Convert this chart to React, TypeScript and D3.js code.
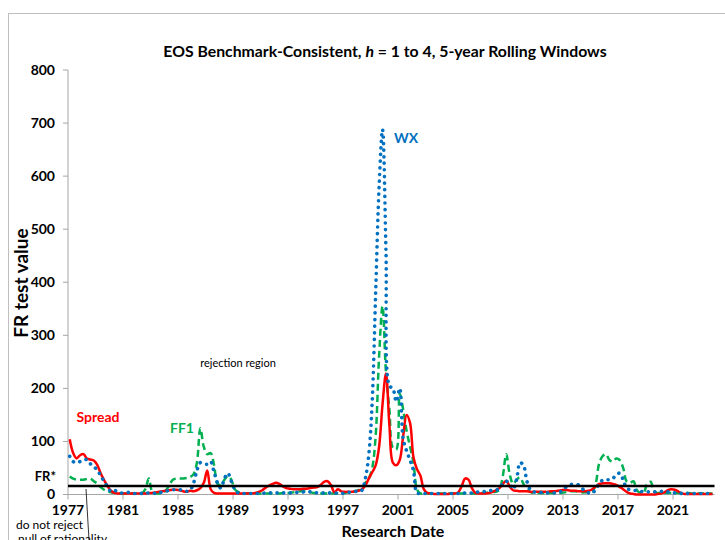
import React from 'react';
import * as d3 from 'd3';

// quarterly FR statistics, one row per year (1977 .. 2023)
const spread = [
  104, 78, 68, 74,  76, 68, 66, 64,  56, 40, 27, 16,  7, 3, 2, 2,
  2, 2, 2, 2,  2, 2, 2, 3,  3, 4, 5, 6,  7, 8, 9, 9,
  8, 6, 5, 7,  6, 8, 12, 22,  45, 10, 3, 2,  2, 2, 2, 2,
  2, 2, 2, 2,  2, 2, 3, 5,  8, 13, 17, 20,  22, 20, 15, 12,
  11, 10, 10, 10,  11, 11, 12, 13,  14, 18, 24, 25,  18, 4, 10, 6,
  5, 5, 5, 6,  7, 10, 17, 30,  42, 55, 90, 170,  228, 130, 60, 55,
  65, 110, 150, 135,  70, 48, 36, 10,  3, 2, 1, 1,  1, 1, 1, 2,
  2, 4, 15, 30,  28, 12, 3, 2,  2, 2, 3, 5,  8, 12, 20, 26,
  15, 8, 7, 6,  6, 6, 5, 5,  5, 5, 5, 5,  6, 6, 7, 8,
  9, 8, 7, 7,  6, 6, 6, 7,  10, 15, 20, 21,  21, 21, 20, 18,
  14, 10, 5, 2,  1, 0, 0, 0,  0, 0, 0, 1,  2, 4, 8, 10,
  9, 6, 2, 1,  1, 1, 1, 1,  1, 1, 1, 1,
];
const wx = [
  72, 62, 60, 62,  64, 66, 58, 52,  47, 35, 25, 14,  6, 8, 4, 3,
  3, 4, 3, 2,  3, 2, 2, 3,  3, 2, 3, 5,  6, 8, 9, 9,
  9, 8, 6, 8,  21, 45, 60, 58,  57, 62, 42, 22,  12, 30, 40, 25,
  10, 3, 2, 2,  2, 2, 2, 2,  2, 3, 3, 3,  3, 3, 3, 3,
  3, 3, 4, 4,  5, 6, 5, 4,  3, 3, 3, 3,  3, 3, 2, 2,
  3, 4, 5, 6,  5, 8, 30, 75,  175, 380, 580, 688,  460, 205, 200, 175,
  200, 105, 82, 65,  45, 3, 2, 2,  2, 2, 2, 2,  2, 2, 2, 2,
  2, 2, 2, 3,  3, 3, 4, 5,  5, 6, 7, 8,  8, 12, 20, 25,
  20, 10, 28, 60,  55, 25, 9, 5,  4, 4, 3, 3,  3, 3, 4, 6,
  12, 17, 19, 19,  18, 12, 6, 3,  2, 10, 20, 27,  28, 28, 30, 38,
  40, 28, 12, 9,  8, 7, 6, 5,  5, 5, 5, 6,  6, 5, 5, 4,
  3, 3, 2, 2,  2, 2, 2, 2,  2, 2, 2, 2,
];
const ff1 = [
  34, 30, 28, 28,  28, 29, 30, 25,  21, 14, 9, 6,  4, 3, 2, 2,
  2, 2, 2, 2,  2, 2, 10, 30,  5, 2, 2, 3,  8, 18, 28, 30,
  30, 30, 31, 33,  38, 60, 125, 90,  76, 78, 55, 20,  18, 28, 35, 28,
  10, 5, 3, 2,  2, 2, 2, 2,  2, 2, 2, 2,  2, 2, 3, 3,
  3, 4, 5, 6,  6, 5, 4, 3,  2, 2, 2, 2,  2, 2, 2, 2,
  3, 4, 5, 6,  8, 12, 22, 30,  50, 110, 260, 355,  230, 160, 88, 85,
  190, 160, 120, 90,  60, 10, 2, 2,  2, 2, 2, 2,  2, 2, 2, 2,
  2, 2, 2, 2,  2, 2, 2, 3,  3, 3, 4, 5,  5, 9, 35, 76,
  38, 20, 28, 32,  20, 10, 5, 3,  3, 3, 3, 3,  3, 3, 3, 3,
  4, 5, 6, 6,  5, 4, 4, 5,  5, 20, 58, 72,  76, 65, 62, 68,
  65, 50, 25, 22,  25, 8, 3, 4,  20, 24, 6, 3,  3, 3, 3, 3,
  3, 3, 3, 3,  3, 2, 2, 2,  2, 2, 2, 2,
];
const firstYear = 1977;
const frStar = 16;
const xTicks = [1977, 1981, 1985, 1989, 1993, 1997, 2001, 2005, 2009, 2013, 2017, 2021];
const yTicks = [0, 100, 200, 300, 400, 500, 600, 700, 800];

const font = 'Lato, "Open Sans", sans-serif';

export default function App() {
  const x = d3.scaleLinear().domain([1977, 2021]).range([68, 673]);
  const y = d3.scaleLinear().domain([0, 800]).range([494.5, 70]);
  const date = (i: number) => firstYear + (i + 0.5) / 4;

  const line = d3
    .line<number>()
    .x((d, i) => x(date(i)))
    .y((d) => y(d))
    .curve(d3.curveCatmullRom.alpha(0.5));

  const x0 = x(1977);
  const x1 = x(date(spread.length - 1)) + 2;

  return (
    <div style={{ position: 'absolute', left: 0, top: 0 }}>
      <svg width={725} height={540} style={{ display: 'block', fontFamily: font }}>
        <rect x={8.5} y={13.5} width={760} height={600} fill="#fff" stroke="#BFBFBF" />

        <text x={385} y={57} textAnchor="middle" fontSize={15.8} fontWeight="bold">
          EOS Benchmark-Consistent, <tspan fontStyle="italic">h</tspan> = 1 to 4, 5-year Rolling Windows
        </text>

        {/* y axis */}
        <line x1={x0} x2={x0} y1={y(800)} y2={y(0)} stroke="#A6A6A6" />
        {yTicks.map((t) => (
          <g key={t}>
            <line x1={x0 - 5} x2={x0} y1={y(t)} y2={y(t)} stroke="#A6A6A6" />
            <text x={55} y={y(t)} dy="0.35em" textAnchor="end" fontSize={14} fontWeight="bold">
              {t}
            </text>
          </g>
        ))}
        <text x={56} y={y(frStar) - 9.5} dy="0.35em" textAnchor="end" fontSize={13} fontWeight="bold">
          FR*
        </text>
        <text
          transform={`translate(21,283) rotate(-90)`}
          textAnchor="middle"
          dy="0.35em"
          fontSize={19}
          fontWeight="bold"
        >
          FR test value
        </text>

        {/* x axis */}
        <line x1={x0} x2={x1} y1={y(0)} y2={y(0)} stroke="#A6A6A6" />
        {xTicks.map((t) => (
          <g key={t}>
            <line x1={x(t)} x2={x(t)} y1={y(0)} y2={y(0) + 5} stroke="#A6A6A6" />
            <text x={x(t)} y={510} dy="0.35em" textAnchor="middle" fontSize={14} fontWeight="bold">
              {t}
            </text>
          </g>
        ))}
        <text x={393} y={531} dy="0.35em" textAnchor="middle" fontSize={16} fontWeight="bold">
          Research Date
        </text>

        {/* series */}
        <path d={line(ff1) || ''} fill="none" stroke="#00B050" strokeWidth={2.5} strokeDasharray="7 4" />
        <path d={line(spread) || ''} fill="none" stroke="#FF0000" strokeWidth={2.5} />
        <path
          d={line(wx) || ''}
          fill="none"
          stroke="#0070C0"
          strokeWidth={3.6}
          strokeDasharray="0.1 6.5"
          strokeLinecap="round"
        />

        {/* FR* threshold */}
        <line x1={x0} x2={x1} y1={y(frStar)} y2={y(frStar)} stroke="#000" strokeWidth={2.5} />

        {/* annotations */}
        <text x={406} y={138} dy="0.35em" textAnchor="middle" fontSize={14} fontWeight="bold" fill="#0070C0">WX</text>
        <text x={98} y={417} dy="0.35em" textAnchor="middle" fontSize={14} fontWeight="bold" fill="#FF0000">Spread</text>
        <text x={182} y={428} dy="0.35em" textAnchor="middle" fontSize={14} fontWeight="bold" fill="#00B050">FF1</text>
        <text x={238} y={363} dy="0.35em" textAnchor="middle" fontSize={11}>rejection region</text>
        <line x1={86} y1={489} x2={89} y2={540} stroke="#000" strokeWidth={0.8} />
        <text x={16} y={525} dy="0.35em" fontSize={12}>do not reject</text>
        <text x={18} y={539} dy="0.35em" fontSize={12}>null of rationality</text>
      </svg>
    </div>
  );
}
